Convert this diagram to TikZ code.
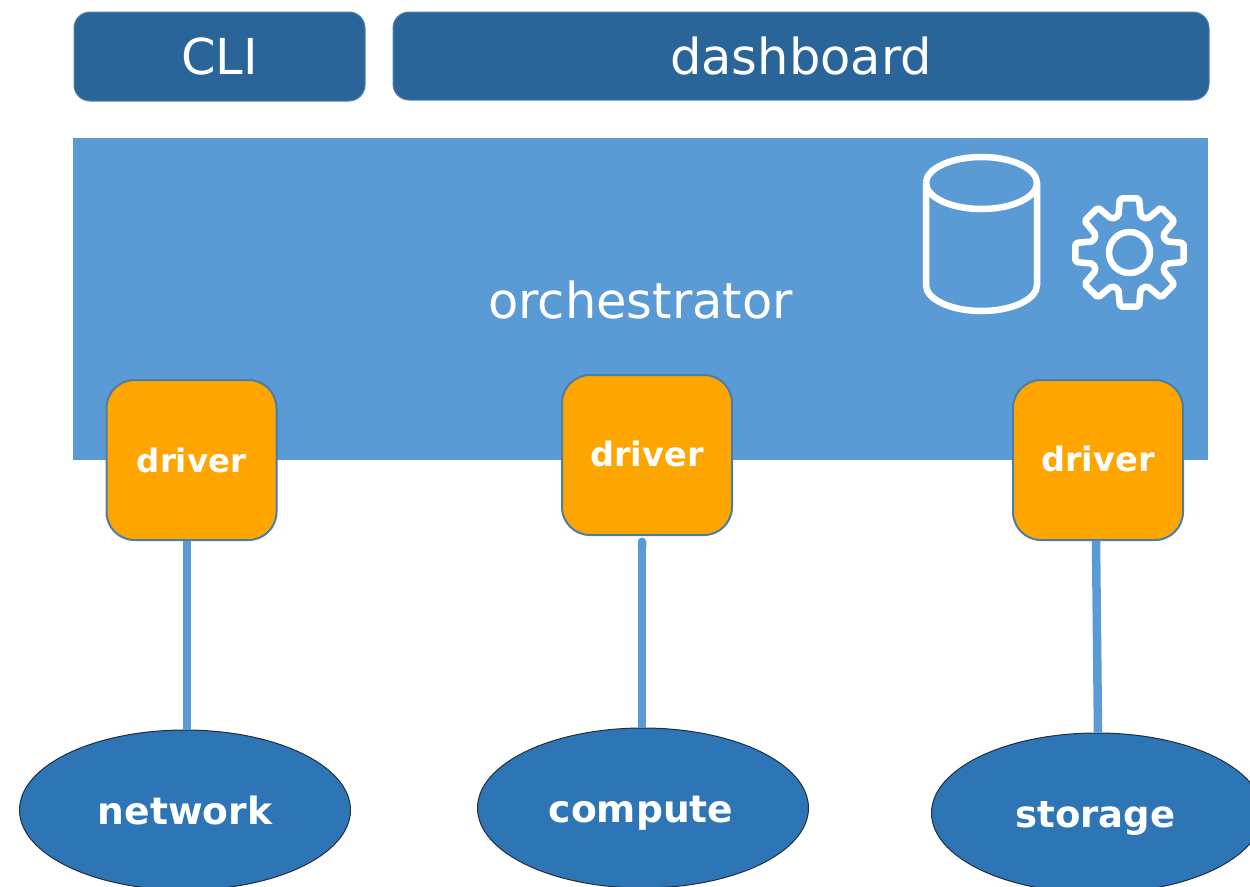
\documentclass[tikz,border=0pt]{standalone}
\usepackage{fontspec}
\setmainfont{DejaVu Sans}
\usetikzlibrary{shapes.geometric,arrows.meta}
\definecolor{darkbar}{HTML}{2A6599}
\definecolor{barline}{HTML}{4F82AE}
\definecolor{orch}{HTML}{5B9BD5}
\definecolor{drv}{HTML}{FFA500}
\definecolor{drvline}{HTML}{4A7EA8}
\definecolor{res}{HTML}{2E75B6}
\definecolor{resline}{HTML}{1F2F40}
\tikzset{
  x=1pt,y=-1pt,
  barbox/.style={draw=barline,line width=1pt,fill=darkbar,rounded corners=16pt,text=white,inner sep=0pt,font=\fontsize{49.5}{50}\selectfont},
  orchbox/.style={fill=orch,inner sep=0pt,minimum width=1135pt,minimum height=322pt},
  drvbox/.style={draw=drvline,line width=2pt,fill=drv,rounded corners=28pt,minimum width=170pt,minimum height=160pt,text=white,inner sep=0pt,font=\bfseries\fontsize{33.6}{34}\selectfont,text height=23pt,text depth=0pt},
  resnode/.style={ellipse,draw=resline,line width=1pt,fill=res,minimum width=331pt,minimum height=160pt,text=white,inner sep=0pt,font=\bfseries\fontsize{37.6}{38}\selectfont,text height=29pt,text depth=0pt},
  link/.style={draw=orch,line width=8.5pt},
  icon/.style={draw=white,line width=6.5pt,line join=round},
  caption/.style={text=white,inner sep=0pt,font=\fontsize{49.5}{50}\selectfont},
}
\begin{document}
\begin{tikzpicture}
\useasboundingbox (0,0) rectangle (1250,886);
\clip (0,0) rectangle (1250,886);
\node[barbox,minimum width=291pt,minimum height=89pt] (cli) at (219.5,56.5) {CLI};
\node[barbox,minimum width=816pt,minimum height=88pt] (dash) at (801,56) {dashboard};
\node[orchbox] (orc) at (640.5,299) {};
\node[caption] (orctext) at (640.5,300) {orchestrator};
% database icon
\draw[icon] (926,183) arc[start angle=180,end angle=-180,x radius=55.5,y radius=-26];
\draw[icon] (926,183) -- (926,285) arc[start angle=180,end angle=360,x radius=55.5,y radius=-26] -- (1037,183);
% gear icon
\draw[icon,rounded corners=2pt] ([shift={(1129.5,252.5)}]10:55)
  \foreach \a in {0,45,...,315} {
    -- ([shift={(1129.5,252.5)}]\a+10:55)
    -- ([shift={(1129.5,252.5)}]\a+17:38)
    -- ([shift={(1129.5,252.5)}]\a+45-17:38)
    -- ([shift={(1129.5,252.5)}]\a+45-10:55)
  } -- cycle;
\draw[icon] (1129.5,252.5) circle[radius=20.5];
\node[drvbox,font=\bfseries\fontsize{32.4}{33}\selectfont,text height=25pt] (d1) at (191.5,460) {driver};
\node[drvbox] (d2) at (647,455) {driver};
\node[drvbox] (d3) at (1098,460) {driver};
\node[resnode] (net) at (185,810) {network};
\node[resnode] (com) at (643,808) {compute\kern4pt};
\node[resnode,font=\bfseries\fontsize{37}{38}\selectfont] (sto) at (1097,813) {storage\kern3pt};
\draw[link] ([xshift=-4.5pt]d1.south) -- ([xshift=2pt]net.north);
\draw[link,{Round Cap[]}-] ([xshift=-5pt,yshift=-1.5pt]d2.south) -- ([xshift=-1pt]com.north);
\draw[link] ([xshift=-2pt]d3.south) -- ([xshift=1pt]sto.north);
\end{tikzpicture}
\end{document}
